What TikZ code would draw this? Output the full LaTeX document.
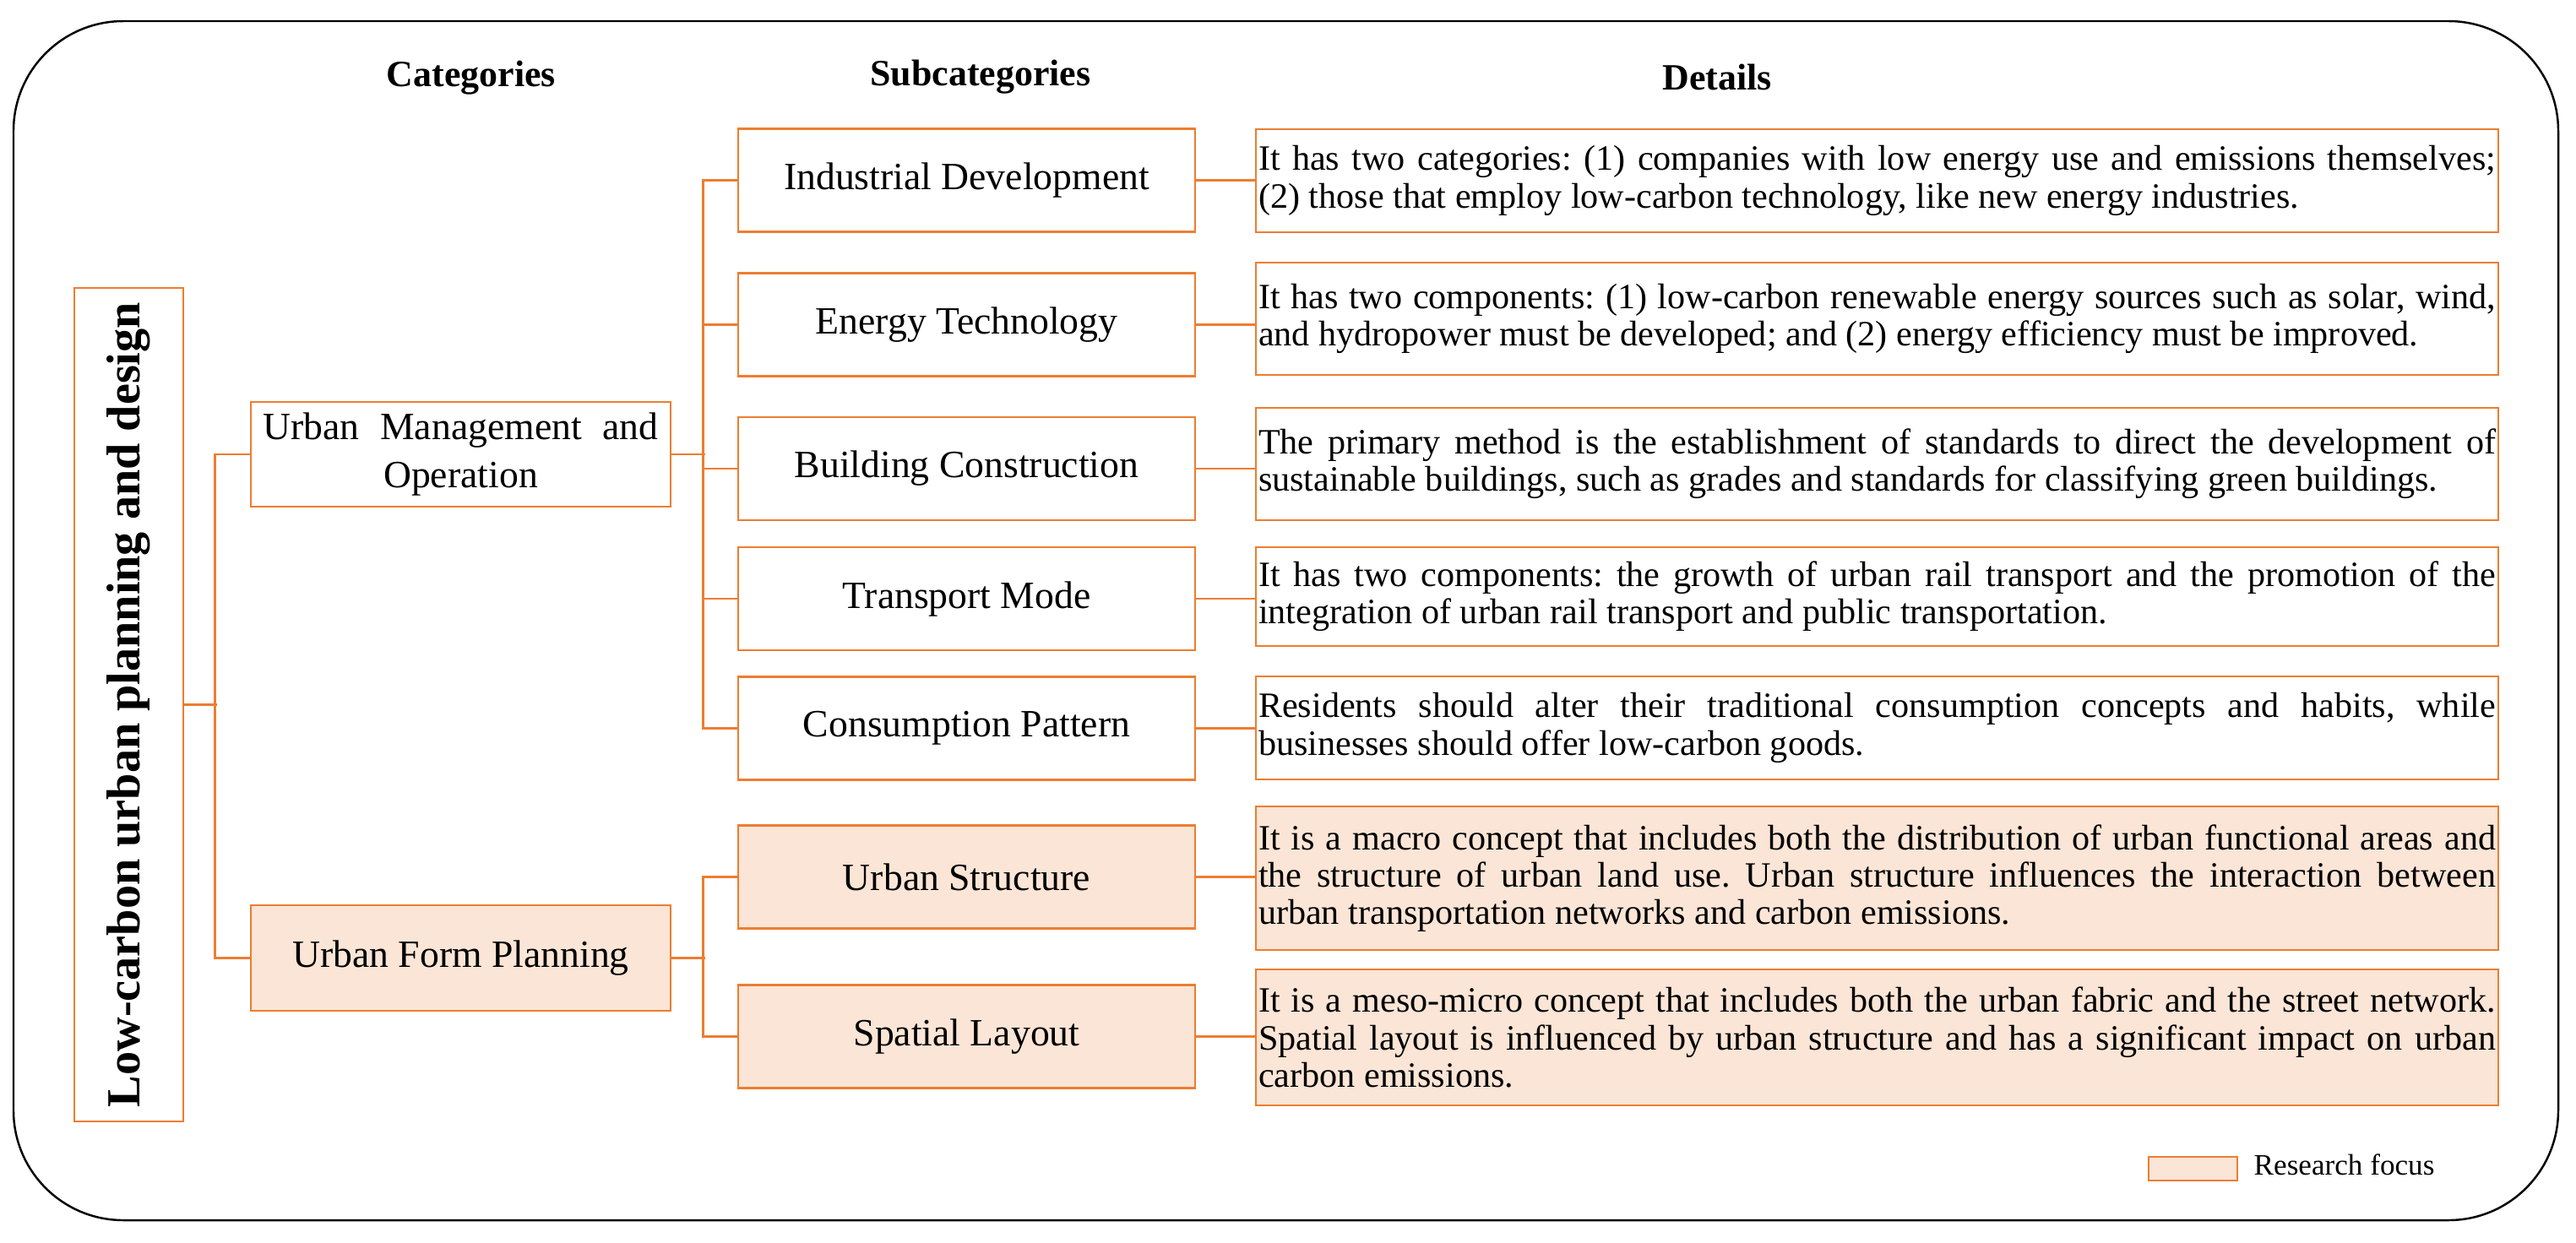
\documentclass[tikz,border=0pt]{standalone}
\usepackage{fontspec}
\setmainfont{Liberation Serif}
\usepackage{tikz}
\usepackage{color}
\definecolor{lineorange}{RGB}{237, 125, 49}
\definecolor{lightpeach}{RGB}{251, 229, 214}
\hyphenpenalty=10000
\exhyphenpenalty=10000
\tolerance=9999
\frenchspacing

\tikzset{
    orangebox/.style={draw=lineorange,line width=0.8pt,inner sep=0pt},
    subbox/.style={orangebox,minimum width=5.41cm,minimum height=1.22cm,font=\fontsize{13}{15}\selectfont},
    catbox/.style={orangebox,minimum width=4.97cm,minimum height=1.24cm,align=center,font=\fontsize{13}{16}\selectfont},
    detbox/.style={orangebox,text width=14.65cm,inner xsep=0.03cm,align=justify,font=\fontsize{12}{12.6}\selectfont},
    focus/.style={fill=lightpeach},
    header/.style={font=\fontsize{12.5}{15}\bfseries},
    link/.style={draw=lineorange,line width=0.8pt}
}

\begin{document}
\begin{tikzpicture}
        \useasboundingbox (0,0) rectangle (30.5,-14.71);
        \draw[line width=0.7pt,rounded corners=1.3cm] (0.16,-0.25) rectangle (30.29,-14.45);

        \coordinate (m) at (1.525,-8.345);
        \coordinate (c1) at (5.455,-5.38);
        \coordinate (c2) at (5.455,-11.345);
        \coordinate (s1) at (11.445,-2.135);
        \coordinate (s2) at (11.445,-3.845);
        \coordinate (s3) at (11.445,-5.55);
        \coordinate (s4) at (11.445,-7.09);
        \coordinate (s5) at (11.445,-8.625);
        \coordinate (s6) at (11.445,-10.385);
        \coordinate (s7) at (11.445,-12.275);
        \coordinate (d1) at (22.225,-2.14);
        \coordinate (d2) at (22.225,-3.775);
        \coordinate (d3) at (22.225,-5.495);
        \coordinate (d4) at (22.225,-7.065);
        \coordinate (d5) at (22.225,-8.62);
        \coordinate (d6) at (22.225,-10.40);
        \coordinate (d7) at (22.225,-12.285);

        % column headers
        \node[header] (CatHead) at (5.58,-0.92) {Categories};
        \node[header] (SubHead) at (11.61,-0.91) {Subcategories};
        \node[header] (DetHead) at (20.33,-0.91) {Details};

        \node[orangebox,minimum width=1.29cm,minimum height=9.87cm] (MainNode) at (m)
            {\rotatebox{90}{\fontsize{16}{18}\selectfont\bfseries Low-carbon urban planning and design}};

        \node[catbox] (UrbMan) at (c1) {\makebox[4.68cm][s]{Urban Management and}\\Operation};
        \node[catbox,focus,minimum height=1.25cm] (UrbForm) at (c2) {Urban Form Planning};

        \node[subbox] (IndDev) at (s1) {Industrial Development};
        \node[subbox] (EnTech) at (s2) {Energy Technology};
        \node[subbox] (BldCon) at (s3) {Building Construction};
        \node[subbox] (TrMode) at (s4) {Transport Mode};
        \node[subbox] (ConPat) at (s5) {Consumption Pattern};
        \node[subbox,focus] (UrbStr) at (s6) {Urban Structure};
        \node[subbox,focus] (SpaLay) at (s7) {Spatial Layout};

        \node[detbox,minimum height=1.22cm] (IndDet) at (d1) {It has two categories: (1) companies with low energy use and emissions themselves;\linebreak (2) those that employ low-carbon technology, like new energy industries.};
        \node[detbox,minimum height=1.33cm] (EnDet) at (d2) {It has two components: (1) low-carbon renewable energy sources such as solar, wind,\linebreak and hydropower must be developed; and (2) energy efficiency must be improved.};
        \node[detbox,minimum height=1.33cm] (BldDet) at (d3) {The primary method is the establishment of standards to direct the development of\linebreak sustainable buildings, such as grades and standards for classifying green buildings.};
        \node[detbox,minimum height=1.17cm] (TrDet) at (d4) {It has two components: the growth of urban rail transport and the promotion of the\linebreak integration of urban rail transport and public transportation.};
        \node[detbox,minimum height=1.22cm] (ConDet) at (d5) {Residents should alter their traditional consumption concepts and habits, while\linebreak businesses should offer low-carbon goods.};
        \node[detbox,focus,minimum height=1.70cm] (StrDet) at (d6) {It is a macro concept that includes both the distribution of urban functional areas and\linebreak the structure of urban land use. Urban structure influences the interaction between\linebreak urban transportation networks and carbon emissions.};
        \node[detbox,focus,minimum height=1.61cm] (LayDet) at (d7) {It is a meso-micro concept that includes both the urban fabric and the street network.\linebreak Spatial layout is influenced by urban structure and has a significant impact on urban\linebreak carbon emissions.};

        % tree lines
        \draw[link] (MainNode.east) -- ++(0.39,0);
        \draw[link] (UrbMan.west) -- ++(-0.41,0) |- (UrbForm.west);
        \draw[link] (UrbMan.east) -- ++(0.4,0);
        \draw[link] (IndDev.west) -- ++(-0.4,0) |- (ConPat.west);
        \foreach \n in {EnTech,BldCon,TrMode}
            \draw[link] (\n.west) -- ++(-0.4,0);
        \draw[link] (UrbForm.east) -- ++(0.4,0);
        \draw[link] (UrbStr.west) -- ++(-0.4,0) |- (SpaLay.west);
        \foreach \a/\b in {IndDev/IndDet,EnTech/EnDet,BldCon/BldDet,TrMode/TrDet,ConPat/ConDet,UrbStr/StrDet,SpaLay/LayDet}
            \draw[link] (\a.east) -- (\a.east -| \b.west);

        % legend
        \node[orangebox,focus,minimum width=1.05cm,minimum height=0.28cm] (LegBox) at (25.965,-13.84) {};
        \node[anchor=west,inner sep=0pt,font=\fontsize{10}{12}\selectfont] (LegText) at (26.68,-13.79) {Research focus};
\end{tikzpicture}
\end{document}
